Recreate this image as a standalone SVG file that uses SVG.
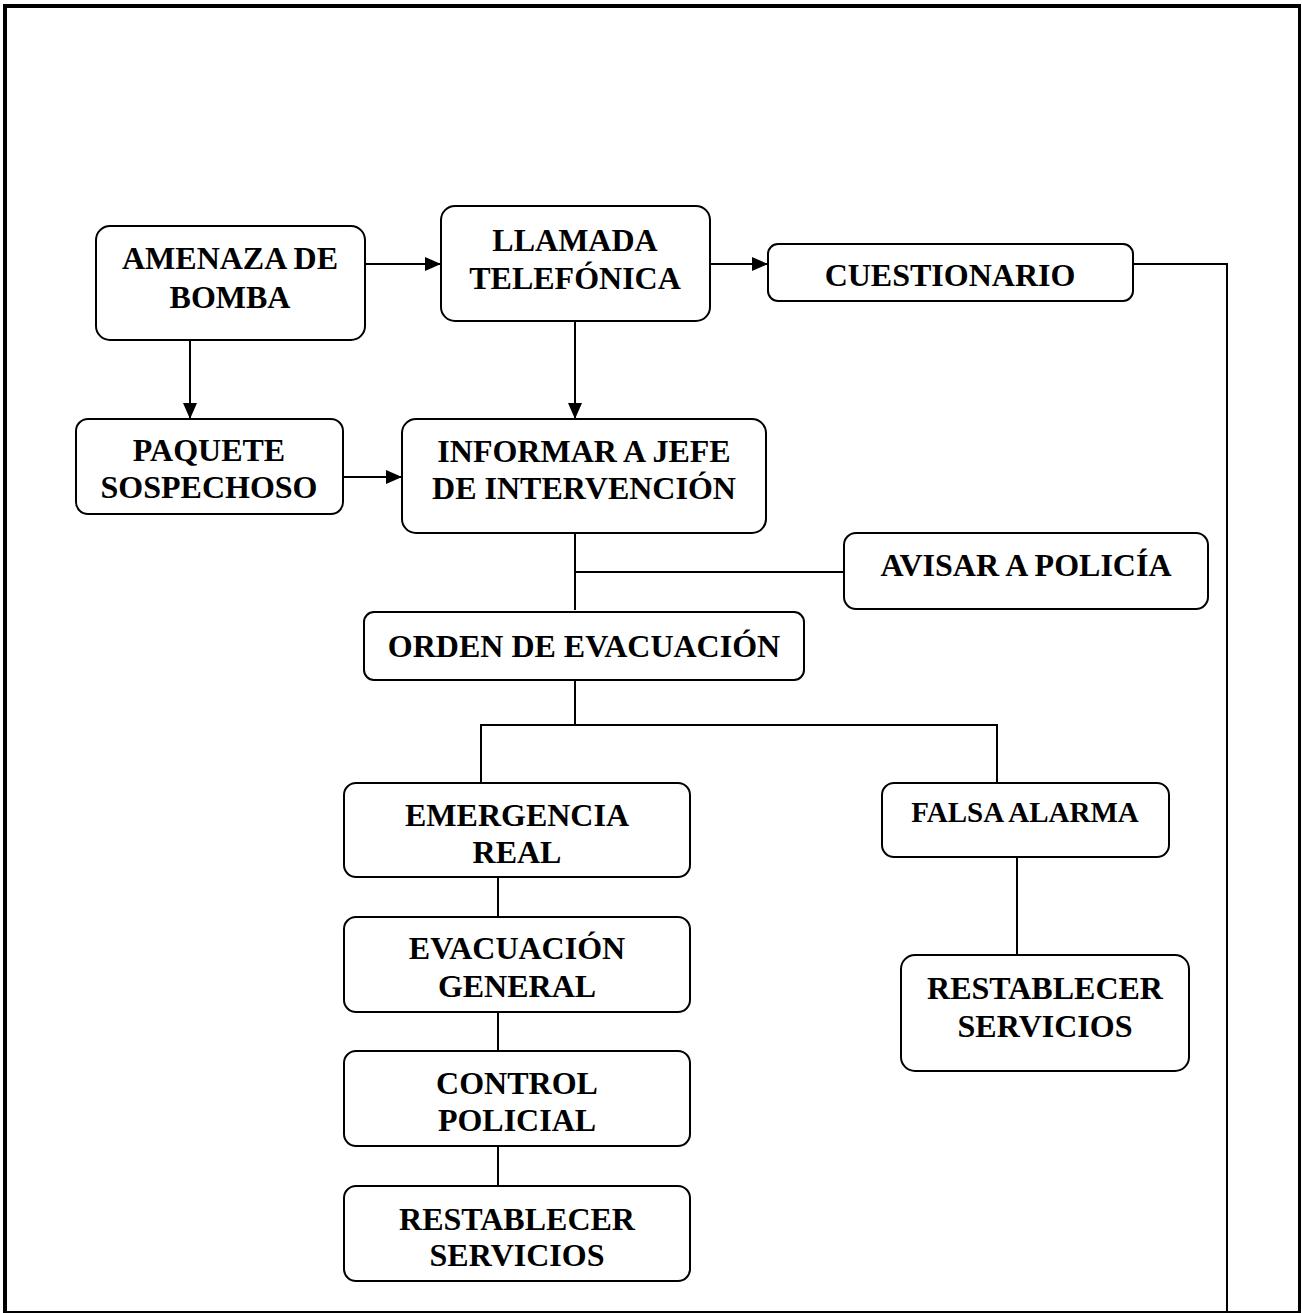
<svg xmlns="http://www.w3.org/2000/svg" width="1302" height="1313" viewBox="0 0 1302 1313">
<defs>
<style>
.box{fill:#fff;stroke:#000;stroke-width:2}
.t{font-family:"Liberation Serif","Times New Roman",serif;font-weight:bold;font-size:32px;text-anchor:middle;fill:#000}
.s{font-size:29px}
.c{fill:none;stroke:#000;stroke-width:2}
.a{marker-end:url(#arr)}
</style>
<marker id="arr" markerWidth="16" markerHeight="14" refX="16" refY="7" orient="auto" markerUnits="userSpaceOnUse">
<path d="M0,0 L16,7 L0,14 Z" fill="#000"/>
</marker>
</defs>
<rect width="1302" height="1313" fill="#fff"/>
<g id="border" fill="none" stroke="#000">
<line x1="3" y1="6" x2="1301" y2="6" stroke-width="4"/>
<line x1="5" y1="4" x2="5" y2="1313" stroke-width="4"/>
<line x1="1299.5" y1="4" x2="1299.5" y2="1313" stroke-width="3"/>
<line x1="3" y1="1312" x2="1301" y2="1312" stroke-width="2"/>
</g>
<g id="connectors">
<line class="c a" x1="365" y1="264" x2="441" y2="264"/>
<line class="c a" x1="710" y1="264" x2="768" y2="264"/>
<polyline class="c" points="1133,264 1227,264 1227,1313"/>
<line class="c a" x1="190" y1="340" x2="190" y2="419"/>
<line class="c a" x1="575" y1="321" x2="575" y2="419"/>
<line class="c a" x1="343" y1="477" x2="402" y2="477"/>
<line class="c" x1="575" y1="533" x2="575" y2="610"/>
<line class="c" x1="575" y1="572" x2="844" y2="572"/>
<line class="c" x1="575" y1="680" x2="575" y2="725"/>
<polyline class="c" points="481,783 481,725 997,725 997,783"/>
<line class="c" x1="498" y1="877" x2="498" y2="917"/>
<line class="c" x1="498" y1="1012" x2="498" y2="1051"/>
<line class="c" x1="498" y1="1146" x2="498" y2="1186"/>
<line class="c" x1="1017" y1="857" x2="1017" y2="955"/>
</g>
<g id="amenaza"><rect class="box" x="96" y="226" width="269" height="114" rx="14"/><text class="t" x="230" y="269">AMENAZA DE</text><text class="t" x="230" y="308">BOMBA</text></g>
<g id="llamada"><rect class="box" x="441" y="206" width="269" height="115" rx="14"/><text class="t" x="575" y="251">LLAMADA</text><text class="t" x="575" y="289">TELEFÓNICA</text></g>
<g id="cuestionario"><rect class="box" x="768" y="244" width="365" height="57" rx="10"/><text class="t" x="950" y="286">CUESTIONARIO</text></g>
<g id="paquete"><rect class="box" x="76" y="419" width="267" height="95" rx="12"/><text class="t" x="209" y="461">PAQUETE</text><text class="t" x="209" y="498">SOSPECHOSO</text></g>
<g id="informar"><rect class="box" x="402" y="419" width="364" height="114" rx="14"/><text class="t" x="584" y="462">INFORMAR A JEFE</text><text class="t" x="584" y="499">DE INTERVENCIÓN</text></g>
<g id="avisar"><rect class="box" x="844" y="533" width="364" height="76" rx="12"/><text class="t" x="1026" y="576">AVISAR A POLICÍA</text></g>
<g id="orden"><rect class="box" x="364" y="612" width="440" height="68" rx="10"/><text class="t" x="584" y="657">ORDEN DE EVACUACIÓN</text></g>
<g id="emergencia"><rect class="box" x="344" y="783" width="346" height="94" rx="12"/><text class="t" x="517" y="826">EMERGENCIA</text><text class="t" x="517" y="863">REAL</text></g>
<g id="falsa"><rect class="box" x="882" y="783" width="287" height="74" rx="12"/><text class="t s" x="1025" y="822">FALSA ALARMA</text></g>
<g id="evacuacion"><rect class="box" x="344" y="917" width="346" height="95" rx="12"/><text class="t" x="517" y="959">EVACUACIÓN</text><text class="t" x="517" y="997">GENERAL</text></g>
<g id="control"><rect class="box" x="344" y="1051" width="346" height="95" rx="12"/><text class="t" x="517" y="1094">CONTROL</text><text class="t" x="517" y="1131">POLICIAL</text></g>
<g id="restablecer1"><rect class="box" x="344" y="1186" width="346" height="95" rx="12"/><text class="t" x="517" y="1230">RESTABLECER</text><text class="t" x="517" y="1266">SERVICIOS</text></g>
<g id="restablecer2"><rect class="box" x="901" y="955" width="288" height="116" rx="14"/><text class="t" x="1045" y="999">RESTABLECER</text><text class="t" x="1045" y="1037">SERVICIOS</text></g>
</svg>
